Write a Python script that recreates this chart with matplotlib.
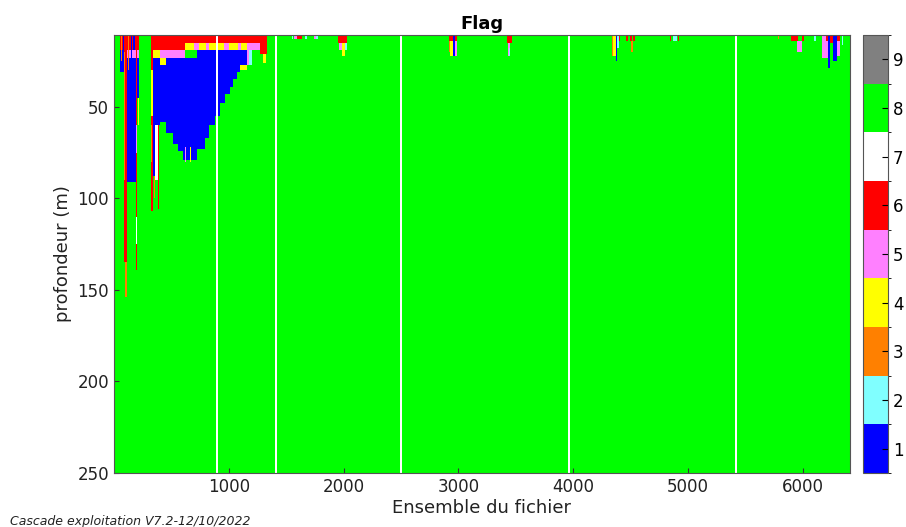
import numpy as np
import matplotlib
matplotlib.use("Agg")
import matplotlib.pyplot as plt
from matplotlib.colors import ListedColormap, BoundaryNorm

# flag colours 1..9
flag_colors = ["#0000ff", "#80ffff", "#ff8000", "#ffff00", "#ff80ff",
               "#ff0000", "#ffffff", "#00ff00", "#808080"]
flag_ticks = [1, 2, 3, 4, 5, 6, 7, 8, 9]

n_ens = 6410          # ensembles in the file
depth_top = 10.7
depth_bot = 250

# missing ensembles (white gaps): (start, end)
gaps = [(888, 908), (1400, 1420), (2490, 2510), (3950, 3970), (5408, 5428)]

# blue (flag 1) region of the big V: (ens start, ens end, bottom depth)
v_bottom = [(400, 450, 58), (450, 510, 64), (510, 560, 70), (560, 600, 74),
            (600, 720, 79), (720, 790, 73), (790, 830, 67), (830, 880, 60),
            (880, 920, 55), (920, 970, 48), (970, 1010, 43), (1010, 1040, 39),
            (1040, 1070, 35), (1070, 1100, 31), (1100, 1160, 27)]

# other flagged patches: (ens start, ens end, depth top, depth bottom, flag)
patches = [
    # first columns
    (50, 95, 10, 19, 6), (50, 95, 19, 31, 1), (60, 70, 10, 25, 3), (80, 88, 10, 22, 1),
    (95, 110, 10, 135, 6), (95, 100, 20, 90, 3), (100, 108, 135, 154, 3),
    (110, 190, 10, 19, 6), (110, 190, 19, 23, 5), (110, 190, 23, 91, 1),
    (125, 135, 10, 30, 3), (150, 160, 10, 25, 1), (170, 178, 10, 19, 1),
    (190, 205, 10, 139, 6), (190, 200, 60, 75, 5), (195, 205, 110, 125, 7),
    (205, 225, 10, 19, 6), (205, 225, 19, 23, 5), (205, 225, 23, 45, 1), (210, 220, 45, 60, 4),
    (320, 340, 10, 107, 6), (320, 340, 30, 55, 4), (325, 335, 60, 80, 3),
    (340, 400, 10, 19, 6), (340, 400, 19, 23, 4), (340, 400, 23, 60, 1),
    (345, 365, 60, 88, 1), (365, 380, 60, 90, 7), (380, 395, 60, 106, 6),
    (350, 360, 88, 100, 3),
    # top of the big V
    (400, 620, 10, 19, 6), (620, 1330, 10, 15, 6),
    (400, 620, 19, 23, 5), (400, 450, 23, 27, 4),
    (620, 1160, 15, 19, 4), (700, 740, 15, 19, 5), (800, 830, 15, 19, 5),
    (960, 1000, 15, 19, 5), (1080, 1110, 15, 19, 5),
    (1160, 1200, 15, 27, 5), (1180, 1200, 19, 27, 2), (1200, 1270, 15, 19, 5),
    (1100, 1160, 27, 30, 4), (1270, 1330, 10, 21, 6), (1300, 1316, 21, 26, 4),
    (620, 630, 72, 80, 5), (665, 675, 72, 80, 4),
    # scattered near-surface flags
    (1550, 1560, 10, 13, 2), (1570, 1590, 10, 13, 5), (1590, 1640, 10, 13, 6),
    (1660, 1680, 10, 13, 2), (1740, 1760, 10, 13, 5), (1760, 1780, 10, 13, 2),
    (1950, 2030, 10, 15, 6), (1960, 1990, 15, 19, 5), (1990, 2010, 15, 22, 4),
    (2010, 2030, 15, 19, 2),
    (2917, 2995, 10, 14, 6), (2920, 2935, 14, 20, 3), (2935, 2950, 14, 22, 4),
    (2950, 2970, 10, 22, 1), (2970, 2990, 14, 22, 5),
    (3420, 3466, 10, 15, 6), (3430, 3450, 15, 22, 5), (3440, 3455, 18, 22, 2),
    (4340, 4350, 10, 22, 3), (4355, 4370, 10, 22, 4), (4370, 4380, 10, 25, 1),
    (4385, 4400, 10, 18, 2), (4400, 4410, 10, 14, 6),
    (4460, 4480, 10, 14, 6), (4490, 4510, 10, 14, 6), (4500, 4520, 14, 20, 3),
    (4520, 4537, 10, 14, 6),
    (4842, 4855, 10, 14, 6), (4870, 4900, 10, 14, 2), (4910, 4925, 10, 14, 6),
    (5783, 5795, 10, 13, 3),
    (5905, 5930, 10, 14, 6), (5930, 5960, 10, 14, 6), (5950, 5990, 14, 20, 5),
    (5990, 6010, 10, 14, 6), (6097, 6110, 10, 14, 2),
    (6175, 6220, 10, 23, 5), (6200, 6220, 10, 14, 6), (6220, 6245, 10, 29, 1),
    (6245, 6262, 10, 15, 6), (6262, 6296, 10, 25, 1), (6296, 6323, 10, 14, 6),
    (6300, 6325, 14, 22, 5), (6340, 6350, 10, 16, 2),
]

# build grid
x_edges = np.arange(0, n_ens + 10, 10)
z_edges = np.arange(10, 251, 1.0)
z_edges[0] = depth_top
xc = 0.5 * (x_edges[:-1] + x_edges[1:])
zc = 0.5 * (z_edges[:-1] + z_edges[1:])
X, Z = np.meshgrid(xc, zc)

flag = np.full(X.shape, 8.0)
for x0, x1, zb in v_bottom:
    ztop = 23 if x0 < 620 else 19
    flag[(X >= x0) & (X < x1) & (Z >= ztop) & (Z < zb)] = 1
for x0, x1, z0, z1, f in patches:
    flag[(X >= x0) & (X < x1) & (Z >= z0) & (Z < z1)] = f
for g0, g1 in gaps:
    flag[:, (xc >= g0) & (xc < g1)] = np.nan

cmap = ListedColormap(flag_colors)
norm = BoundaryNorm(np.arange(0.5, 10.5, 1), cmap.N)

fig = plt.figure(figsize=(9.06, 5.27), dpi=100)
ax = fig.add_axes([0.1258, 0.1025, 0.8124, 0.8311])
cax = fig.add_axes([0.9525, 0.1025, 0.0276, 0.8311])

mesh = ax.pcolormesh(x_edges, z_edges, flag, cmap=cmap, norm=norm, shading="flat")
ax.set_xlim(0, n_ens)
ax.set_ylim(depth_bot, depth_top)
ax.set_xticks([1000, 2000, 3000, 4000, 5000, 6000])
ax.set_yticks([50, 100, 150, 200, 250])
ax.tick_params(direction="in", labelsize=12, colors="#333333", labelcolor="#222222")
for s in ax.spines.values():
    s.set_color("#555555")
ax.set_title("Flag", fontsize=13, fontweight="bold", pad=4)
ax.set_xlabel("Ensemble du fichier", fontsize=13, labelpad=2, color="#222222")
ax.set_ylabel("profondeur (m)", fontsize=13, color="#222222")

cb = fig.colorbar(mesh, cax=cax, ticks=flag_ticks)
cb.ax.tick_params(direction="in", labelsize=12, length=4)
cb.outline.set_edgecolor("#555555")

fig.text(0.011, 0.003, "Cascade exploitation V7.2-12/10/2022", fontsize=9,
         style="italic", color="#222222")

fig.savefig("out.png", dpi=100)
